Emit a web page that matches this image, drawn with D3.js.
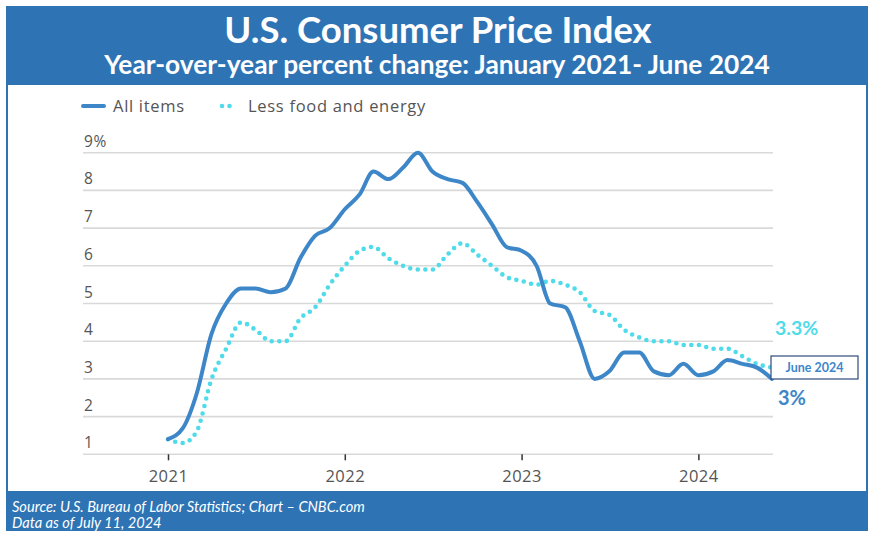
<!DOCTYPE html>
<html>
<head>
<meta charset="utf-8">
<script src="https://cdn.jsdelivr.net/npm/d3@7"></script>
<style>
  html, body { margin: 0; padding: 0; background: #fff; }
  svg { display: block; }
</style>
</head>
<body>
<svg id="chart" width="869" height="535"></svg>
<script>
// ---- Data ----
const months = [
  "2021-01","2021-02","2021-03","2021-04","2021-05","2021-06","2021-07","2021-08","2021-09","2021-10","2021-11","2021-12",
  "2022-01","2022-02","2022-03","2022-04","2022-05","2022-06","2022-07","2022-08","2022-09","2022-10","2022-11","2022-12",
  "2023-01","2023-02","2023-03","2023-04","2023-05","2023-06","2023-07","2023-08","2023-09","2023-10","2023-11","2023-12",
  "2024-01","2024-02","2024-03","2024-04","2024-05","2024-06"
];
const allItems = [
  1.4, 1.7, 2.6, 4.2, 5.0, 5.4, 5.4, 5.3, 5.4, 6.2, 6.8, 7.0,
  7.5, 7.9, 8.5, 8.3, 8.6, 9.0, 8.5, 8.3, 8.2, 7.7, 7.1, 6.5,
  6.4, 6.0, 5.0, 4.9, 4.0, 3.0, 3.2, 3.7, 3.7, 3.2, 3.1, 3.4,
  3.1, 3.2, 3.5, 3.4, 3.3, 3.0
];
const lessFoodEnergy = [
  1.4, 1.3, 1.6, 3.0, 3.8, 4.5, 4.3, 4.0, 4.0, 4.6, 4.9, 5.5,
  6.0, 6.4, 6.5, 6.2, 6.0, 5.9, 5.9, 6.3, 6.6, 6.3, 6.0, 5.7,
  5.6, 5.5, 5.6, 5.5, 5.3, 4.8, 4.7, 4.3, 4.1, 4.0, 4.0, 3.9,
  3.9, 3.8, 3.8, 3.6, 3.4, 3.3
];
const yTicks = [1, 2, 3, 4, 5, 6, 7, 8, 9];
const xTickYears = ["2021", "2022", "2023", "2024"];
const seriesNames = ["All items", "Less food and energy"];

const titleText = "U.S. Consumer Price Index";
const subtitleText = "Year-over-year percent change: January 2021- June 2024";
const sourceLines = ["Source: U.S. Bureau of Labor Statistics; Chart \u2013 CNBC.com", "Data as of July 11, 2024"];

// ---- Styles ----
const BLUE_FRAME = "#2e74b5";
const LINE_BLUE = "#3d87c9";
const LINE_CYAN = "#4fdbe9";
const TEXT_GRAY = "#555555";
const SANS = "'Open Sans', sans-serif";
const TITLE_FONT = "Lato, 'Open Sans', sans-serif";

const svg = d3.select("#chart");
const parse = d3.timeParse("%Y-%m");
const dates = months.map(parse);

// Frame
svg.append("rect").attr("x", 6).attr("y", 6).attr("width", 862).attr("height", 525).attr("fill", BLUE_FRAME);
svg.append("rect").attr("x", 8).attr("y", 85).attr("width", 858).attr("height", 406).attr("fill", "#fff");

// Titles
svg.append("text").attr("x", 438).attr("y", 43).attr("text-anchor", "middle")
  .attr("font-family", TITLE_FONT).attr("font-weight", 700)
  .attr("font-size", 36.5).attr("fill", "#fff").text(titleText);
svg.append("text").attr("x", 437).attr("y", 74).attr("text-anchor", "middle")
  .attr("font-family", TITLE_FONT).attr("font-weight", 700)
  .attr("font-size", 26.3).attr("fill", "#fff").text(subtitleText);

// Footer
sourceLines.forEach((t, i) => {
  svg.append("text").attr("x", 12).attr("y", 512 + i * 16)
    .attr("font-family", TITLE_FONT).attr("font-style", "italic")
    .attr("font-size", 14.6).attr("fill", "#fff").text(t);
});

// Scales
const x = d3.scaleTime().domain([dates[0], dates[dates.length - 1]]).range([168, 772]);
const y = d3.scaleLinear().domain([1, 9]).range([454.3, 152.7]);
const gridX0 = 83, gridX1 = 773;

// Grid
const g = svg.append("g");
g.selectAll("line.grid").data(yTicks).join("line")
  .attr("x1", gridX0).attr("x2", gridX1)
  .attr("y1", d => y(d)).attr("y2", d => y(d))
  .attr("stroke", "#d9d9d9").attr("stroke-width", 1.6);
g.selectAll("text.ylab").data(yTicks).join("text")
  .attr("x", gridX0 + 1).attr("y", d => y(d) - 6)
  .attr("font-family", SANS).attr("font-size", 15.5).attr("letter-spacing", 0.6)
  .attr("fill", TEXT_GRAY)
  .text(d => d === 9 ? "9%" : d);

// X axis
const xAxis = d3.axisBottom(x)
  .tickValues(xTickYears.map(yr => parse(yr + "-01")))
  .tickFormat(d3.timeFormat("%Y"))
  .tickSize(6).tickPadding(10);
const ax = svg.append("g").attr("transform", `translate(0,${y(1)})`).call(xAxis);
ax.select(".domain").remove();
ax.selectAll(".tick line").attr("stroke", "#333").attr("stroke-width", 1.5);
ax.selectAll(".tick text").attr("font-family", SANS)
  .attr("font-size", 16.5).attr("letter-spacing", 0.5).attr("fill", TEXT_GRAY);

// Lines
const line = d3.line().x((d, i) => x(dates[i])).y(d => y(d)).curve(d3.curveMonotoneX);
svg.append("path").datum(lessFoodEnergy).attr("d", line)
  .attr("fill", "none").attr("stroke", LINE_CYAN).attr("stroke-width", 4.6)
  .attr("stroke-linecap", "round").attr("stroke-dasharray", "0 7.6");
svg.append("path").datum(allItems).attr("d", line)
  .attr("fill", "none").attr("stroke", LINE_BLUE).attr("stroke-width", 4)
  .attr("stroke-linejoin", "round").attr("stroke-linecap", "round");

// Legend
const leg = svg.append("g");
leg.append("line").attr("x1", 83).attr("x2", 104).attr("y1", 106).attr("y2", 106)
  .attr("stroke", LINE_BLUE).attr("stroke-width", 4).attr("stroke-linecap", "round");
leg.append("text").attr("x", 113).attr("y", 112).attr("font-family", SANS)
  .attr("font-size", 16.5).attr("letter-spacing", 0.7).attr("fill", TEXT_GRAY).text(seriesNames[0]);
leg.append("line").attr("x1", 222).attr("x2", 231).attr("y1", 106).attr("y2", 106)
  .attr("stroke", LINE_CYAN).attr("stroke-width", 4.6).attr("stroke-linecap", "round")
  .attr("stroke-dasharray", "0 7.5");
leg.append("text").attr("x", 248).attr("y", 112).attr("font-family", SANS)
  .attr("font-size", 16.5).attr("letter-spacing", 0.7).attr("fill", TEXT_GRAY).text(seriesNames[1]);

// End annotations
const lastI = months.length - 1;
const ex = x(dates[lastI]);
svg.append("text").attr("x", ex + 3).attr("y", y(lessFoodEnergy[lastI]) - 33)
  .attr("font-family", TITLE_FONT).attr("font-weight", 700)
  .attr("font-size", 19.5).attr("fill", LINE_CYAN)
  .text(d3.format(".1f")(lessFoodEnergy[lastI]) + "%");
svg.append("rect").attr("x", ex - 1).attr("y", 356).attr("width", 87).attr("height", 23)
  .attr("fill", "#fff").attr("stroke", "#2f4b7c").attr("stroke-width", 1.2);
svg.append("text").attr("x", ex + 42.5).attr("y", 372).attr("text-anchor", "middle")
  .attr("font-family", TITLE_FONT).attr("font-weight", 700)
  .attr("font-size", 12.5).attr("fill", LINE_BLUE).text("June 2024");
svg.append("text").attr("x", ex + 6).attr("y", y(allItems[lastI]) + 26)
  .attr("font-family", TITLE_FONT).attr("font-weight", 700)
  .attr("font-size", 20).attr("fill", LINE_BLUE)
  .text(d3.format("d")(allItems[lastI]) + "%");
</script>
</body>
</html>
